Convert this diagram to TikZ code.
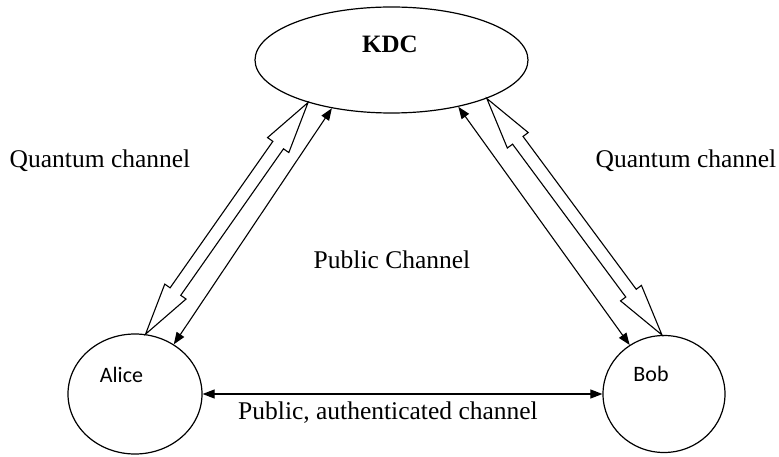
\documentclass[tikz,border=0pt]{standalone}
\usepackage{fontspec}
\setmainfont{Liberation Serif}
\newfontfamily\carlito{Carlito}
\usetikzlibrary{shapes.geometric,calc,arrows.meta}

\newcommand\qchannel[2]{%
  \draw[qpipe]
    (#1) -- ($(#1)!52pt!(#2)!13pt!90:(#2)$) -- ($(#1)!52pt!(#2)!6.5pt!90:(#2)$)
    -- ($(#2)!52pt!(#1)!6.5pt!-90:(#1)$) -- ($(#2)!52pt!(#1)!13pt!-90:(#1)$)
    -- (#2) -- ($(#2)!52pt!(#1)!13pt!90:(#1)$) -- ($(#2)!52pt!(#1)!6.5pt!90:(#1)$)
    -- ($(#1)!52pt!(#2)!6.5pt!-90:(#2)$) -- ($(#1)!52pt!(#2)!13pt!-90:(#2)$)
    -- cycle;}

\begin{document}
\begin{tikzpicture}[
    x=1pt, y=-1pt,
    every node/.style={
      font=\fontsize{25.5}{30}\selectfont
    },
    site/.style={
      ellipse,
      draw,
      line width=1.2pt,
      inner sep=0pt},
    who/.style={
      anchor=base,
      font=\carlito\fontsize{22}{26}\selectfont},
    qpipe/.style={
      draw,
      line width=1.1pt,
      fill=white},
    plain/.style={
      line width=1.1pt,
      {Triangle[length=12pt,width=9pt]}-{Triangle[length=12pt,width=9pt]}},
  ]
  \useasboundingbox (0,0) rectangle (779,457);
  \node[
    site,
    minimum width=273pt,
    minimum height=106pt,
  ] (kdc) at (391.5,60) {};
  \node[
    site,
    minimum width=134pt,
    minimum height=120pt,
  ] (alice) at (135,394) {};
  \node[
    site,
    minimum width=122pt,
    minimum height=117pt,
  ] (bob) at (664,394) {};
  \node[anchor=base, font=\fontsize{25}{30}\selectfont\bfseries] (kdc-name) at (390,53) {KDC};
  \node[who] (alice-name) at (121.5,382) {Alice};
  \node[who] (bob-name) at (651,381) {Bob};

  \coordinate (qa-top) at (kdc.207);
  \coordinate (qa-bot) at (alice.80);
  \coordinate (pa-top) at (kdc.219);
  \coordinate (pa-bot) at (alice.52);
  \coordinate (pb-top) at (kdc.325);
  \coordinate (pb-bot) at (bob.125);
  \coordinate (qb-top) at (kdc.338);
  \coordinate (qb-bot) at (bob.92);

  \qchannel{qa-bot}{qa-top}
  \qchannel{qb-bot}{qb-top}
  \draw[plain] (pa-bot) -- (pa-top);
  \draw[plain] (pb-bot) -- (pb-top);
  \draw[plain] (alice.east) -- (bob.west);

  \node[anchor=base] (qa-label) at (100,168) {Quantum channel};
  \node[anchor=base] (qb-label) at (686,168) {Quantum channel};
  \node[anchor=base] (pub-label) at (392,268) {Public Channel};
  \node[anchor=base] (auth-label) at (388,419) {Public, authenticated channel};
\end{tikzpicture}
\end{document}
